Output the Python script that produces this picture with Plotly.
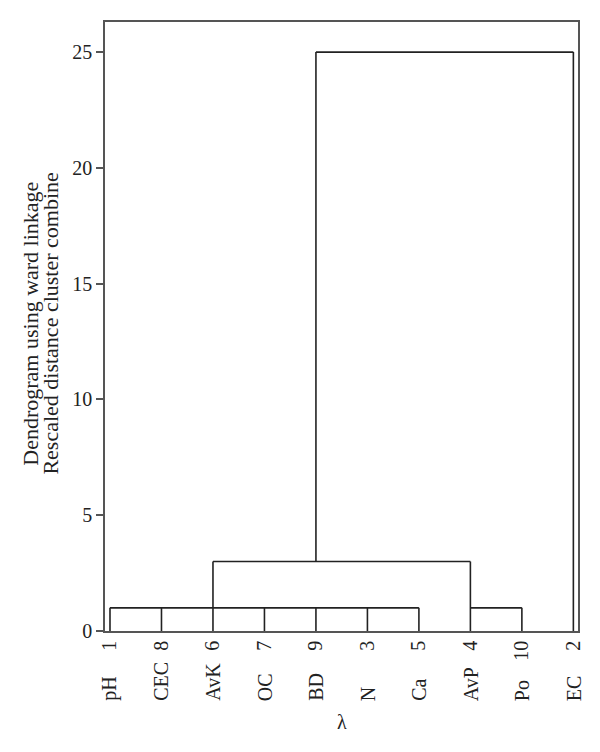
import plotly.graph_objects as go

# Leaf order (left to right) as shown on the chart
leaf_ids = ["1", "8", "6", "7", "9", "3", "5", "4", "10", "2"]
leaf_names = ["pH", "CEC", "AvK", "OC", "BD", "N", "Ca", "AvP", "Po", "EC"]

# Merges: leaf span (first, last position), height
merge_first = [1, 8, 3, 5]
merge_last = [7, 9, 8, 10]
merge_height = [1.0, 1.0, 3.0, 25.0]
# height each leaf rises to before joining
leaf_top = [1.0, 1.0, 1.0, 1.0, 1.0, 1.0, 1.0, 3.0, 1.0, 25.0]
# stems of merged clusters going up to next merge: (position, from, to)
stem_pos = [3, 5]
stem_from = [1.0, 3.0]
stem_to = [3.0, 25.0]

y_ticks = [0, 5, 10, 15, 20, 25]
y_title_lines = ["Dendrogram using ward linkage", "Rescaled distance cluster combine"]

positions = list(range(1, len(leaf_ids) + 1))

xs, ys = [], []
for p, top in zip(positions, leaf_top):
    xs += [p, p, None]
    ys += [0, top, None]
for a, b, h in zip(merge_first, merge_last, merge_height):
    xs += [a, b, None]
    ys += [h, h, None]
for p, f, t in zip(stem_pos, stem_from, stem_to):
    xs += [p, p, None]
    ys += [f, t, None]

fig = go.Figure()
fig.add_trace(go.Scatter(x=xs, y=ys, mode="lines",
                         line=dict(color="#222222", width=1.6),
                         hoverinfo="skip", showlegend=False))

serif = "Liberation Serif, Times New Roman, serif"

for p, name in zip(positions, leaf_names):
    fig.add_annotation(x=p, y=-0.118, xref="x", yref="paper", text=name,
                       textangle=-90, showarrow=False, xanchor="center",
                       yanchor="bottom", font=dict(family=serif, size=20, color="#222"))

fig.add_annotation(x=0.5, y=-0.149, xref="paper", yref="paper", text="λ",
                   showarrow=False, xanchor="center", yanchor="middle",
                   font=dict(family=serif, size=20, color="#222"))

# two title lines placed separately (tight line spacing as in the original)
for line, xp in zip(y_title_lines, [-0.158, -0.116]):
    fig.add_annotation(x=xp, y=0.505, xref="paper", yref="paper", text=line,
                       textangle=-90, showarrow=False, xanchor="center", yanchor="middle",
                       font=dict(family=serif, size=22, color="#222"))

fig.update_layout(
    width=592, height=744,
    margin=dict(l=97, r=22, t=14, b=121),
    paper_bgcolor="white", plot_bgcolor="white",
    font=dict(family=serif, color="#222"),
    xaxis=dict(range=[0.903, 10.09], tickvals=positions, ticktext=leaf_ids,
               tickangle=-90, ticks="", showgrid=False, zeroline=False,
               showline=True, linecolor="#555", linewidth=1.5, mirror=True,
               automargin=False,
               tickfont=dict(family=serif, size=20, color="#222")),
    yaxis=dict(range=[0, 26.3], tickvals=y_ticks, ticks="outside", ticklen=7,
               tickcolor="#555", tickwidth=1.5, showgrid=False, zeroline=False,
               showline=True, linecolor="#555", linewidth=1.5, mirror=True,
               automargin=False,
               tickfont=dict(family=serif, size=20, color="#222")),
)

fig.write_html("out.html")
